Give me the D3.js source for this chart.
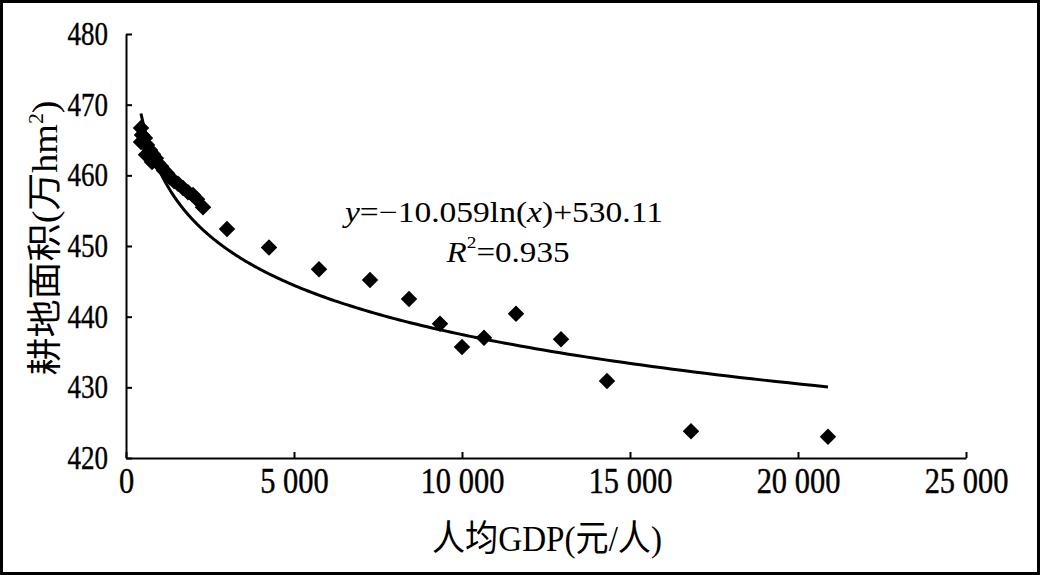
<!DOCTYPE html>
<html>
<head>
<meta charset="utf-8">
<script src="https://cdn.jsdelivr.net/npm/d3@7"></script>
<style>
  html, body { margin: 0; padding: 0; background: #fff; }
  svg { display: block; }
  text { fill: #000; }
</style>
</head>
<body>
<svg id="chart" width="1040" height="575"></svg>
<script>
// ---- data ----
const gdp = [446, 476, 446, 565, 625, 714, 804, 893, 952, 1042, 1131, 1220, 1309, 1428,
             1548, 1696, 1845, 1994, 2113, 2292, 595, 774,
             3006, 4256, 5744, 7262, 8423, 9345, 10000, 10654, 11607, 12946, 14315, 16815, 20892];
const area = [466.7, 465.7, 464.7, 465.3, 464.3, 463.6, 463.0, 462.4, 461.7, 461.3, 460.7, 460.3, 459.7, 459.2,
              458.8, 458.2, 457.6, 457.2, 456.6, 455.5, 462.9, 461.9,
              452.4, 449.8, 446.7, 445.2, 442.5, 439.0, 435.7, 437.0, 440.4, 436.8, 430.9, 423.8, 423.0];
const fitCoef = [-10.059, 530.11];          // y = a ln(x) + b, as printed on the chart
const xTicks = [0, 5000, 10000, 15000, 20000, 25000];
const yTicks = [420, 430, 440, 450, 460, 470, 480];
const xTitle = "人均GDP(元/人)";
const eqText = "=−10.059ln(";
const eqTail = ")+530.11";
const r2Text = "=0.935";

const fitRange = d3.extent(gdp);

// ---- layout ----
const svg = d3.select("#chart");
const serif = "'Liberation Serif', 'Times New Roman', 'Noto Sans CJK SC', serif";

svg.append("rect").attr("x", 1.5).attr("y", 1.5).attr("width", 1037).attr("height", 572)
  .attr("fill", "#fff").attr("stroke", "#000").attr("stroke-width", 3);

const x = d3.scaleLinear().domain([0, 25000]).range([126, 966]);
const y = d3.scaleLinear().domain([420, 480]).range([458, 34]);

// y axis
const yPad = 18, ySx = 0.82;
const gy = svg.append("g").attr("transform", `translate(${x(0)},0)`)
  .call(d3.axisLeft(y).tickValues(yTicks).tickSizeInner(-6).tickSizeOuter(0).tickPadding(yPad));
gy.select(".domain").attr("stroke", "#000").attr("stroke-width", 2);
gy.selectAll(".tick line").attr("stroke", "#000").attr("stroke-width", 2);
gy.selectAll(".tick text")
  .attr("font-family", serif).attr("font-size", 33)
  .attr("stroke", "#000").attr("stroke-width", 0.4)
  .attr("x", -yPad / ySx).attr("transform", `scale(${ySx},1)`).attr("fill", "#000");

// x axis
const xPad = 10, xSx = 0.87;
const gx = svg.append("g").attr("transform", `translate(0,${y(420)})`)
  .call(d3.axisBottom(x).tickValues(xTicks).tickSizeInner(-6).tickSizeOuter(0).tickPadding(xPad)
    .tickFormat(d => d3.format(",")(d).replace(",", " ")));
gx.select(".domain").attr("stroke", "#000").attr("stroke-width", 2);
gx.selectAll(".tick line").attr("stroke", "#000").attr("stroke-width", 2);
gx.selectAll(".tick text")
  .attr("font-family", serif).attr("font-size", 35)
  .attr("stroke", "#000").attr("stroke-width", 0.4)
  .attr("x", 0).attr("transform", `scale(${xSx},1)`).attr("fill", "#000");

// axis titles
svg.append("text").attr("x", 547).attr("y", 551)
  .attr("text-anchor", "middle").attr("font-family", serif).attr("font-size", 36)
  .attr("textLength", 230).attr("lengthAdjust", "spacingAndGlyphs")
  .text(xTitle);

const yt = svg.append("text")
  .attr("transform", "translate(57,238) rotate(-90)")
  .attr("text-anchor", "middle").attr("font-family", serif).attr("font-size", 35)
  .attr("textLength", 275).attr("lengthAdjust", "spacingAndGlyphs");
yt.append("tspan").text("耕地面积(万hm");
yt.append("tspan").attr("font-size", 20).attr("baseline-shift", "70%").text("2");
yt.append("tspan").text(")");

// trend line (from the printed equation)
const fitXs = d3.range(0, 201).map(i => fitRange[0] * Math.pow(fitRange[1] / fitRange[0], i / 200));
svg.append("path")
  .datum(fitXs)
  .attr("fill", "none").attr("stroke", "#000").attr("stroke-width", 3)
  .attr("d", d3.line().x(d => x(d)).y(d => y(fitCoef[0] * Math.log(d) + fitCoef[1])));

// points
const pts = gdp.map((g, i) => ({ g, a: area[i] }));
svg.append("g").selectAll("path").data(pts).join("path")
  .attr("transform", d => `translate(${x(d.g)},${y(d.a)}) rotate(45)`)
  .attr("d", d3.symbol(d3.symbolSquare, 136))
  .attr("fill", "#000");

// equation
const eq = svg.append("text").attr("x", 504).attr("y", 222)
  .attr("text-anchor", "middle").attr("font-family", serif).attr("font-size", 29)
  .attr("textLength", 318).attr("lengthAdjust", "spacingAndGlyphs");
eq.append("tspan").attr("font-style", "italic").text("y");
eq.append("tspan").text(eqText);
eq.append("tspan").attr("font-style", "italic").text("x");
eq.append("tspan").text(eqTail);

const r2 = svg.append("text").attr("x", 508).attr("y", 262)
  .attr("text-anchor", "middle").attr("font-family", serif).attr("font-size", 29)
  .attr("textLength", 123).attr("lengthAdjust", "spacingAndGlyphs");
r2.append("tspan").attr("font-style", "italic").text("R");
r2.append("tspan").attr("font-size", 17).attr("baseline-shift", "80%").text("2");
r2.append("tspan").attr("baseline-shift", "0").text(r2Text);
</script>
</body>
</html>
